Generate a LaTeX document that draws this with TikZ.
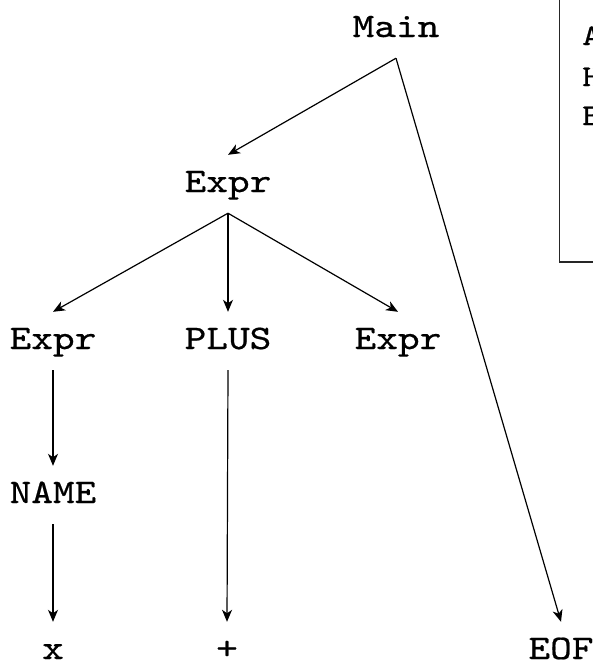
\documentclass[tikz,border=0pt]{standalone}
\usepackage{fontspec}
\setmonofont{lmmono10-regular}[Extension=.otf, FakeStretch=1.2, FakeBold=0.6]
\usetikzlibrary{arrows.meta}

\begin{document}
\begin{tikzpicture}[x=1pt, y=-1pt,
  sym/.style={font=\fontsize{34.4}{40}\selectfont\ttfamily, anchor=base,
              text height=24pt, text depth=8pt, inner xsep=2pt, inner ysep=13pt},
  leaf/.style={sym, text height=37pt, text depth=0pt, inner ysep=0pt},
  boxtxt/.style={font=\fontsize{30}{34}\selectfont\ttfamily, anchor=base west, inner sep=0pt},
  arr/.style={-{Stealth[length=12pt, width=10pt, inset=3.5pt]}, line width=1.2pt}]
  \useasboundingbox (0,0) rectangle (593,664);
  \clip (0,0) rectangle (593,664);

  % parse tree nodes, one row per rank
  \node[sym]  (main)  at (396,37)  {Main};
  \node[sym]  (expr)  at (228,192) {Expr};
  \node[sym]  (exprl) at (53,349)  {Expr};
  \node[sym]  (plus)  at (228,349) {PLUS};
  \node[sym]  (exprr) at (398,349) {Expr};
  \node[sym]  (name)  at (53,503)  {NAME};
  \node[leaf] (x)     at (53,659)  {x};
  \node[leaf] (pl)    at (227,659) {+};
  \node[leaf] (eof)   at (561,659) {EOF};

  % edges
  \draw[arr] (main.south)  -- (expr.north);
  \draw[arr] (main.south)  -- (eof.north);
  \draw[arr] (expr.south)  -- (exprl.north);
  \draw[arr] (expr.south)  -- (plus.north);
  \draw[arr] (expr.south)  -- (exprr.north);
  \draw[arr] (exprl.south) -- (name.north);
  \draw[arr] (name.south)  -- (x.north);
  \draw[arr] (plus.south)  -- (pl.north);

  % legend box at the right edge
  \draw[line width=1.2pt, black!85] (559.5,-5) -- (559.5,262) -- (600,262);
  \node[boxtxt] (la) at (582,45)  {A};
  \node[boxtxt] (lh) at (582,86)  {H};
  \node[boxtxt] (lb) at (582,125) {B};
\end{tikzpicture}
\end{document}
